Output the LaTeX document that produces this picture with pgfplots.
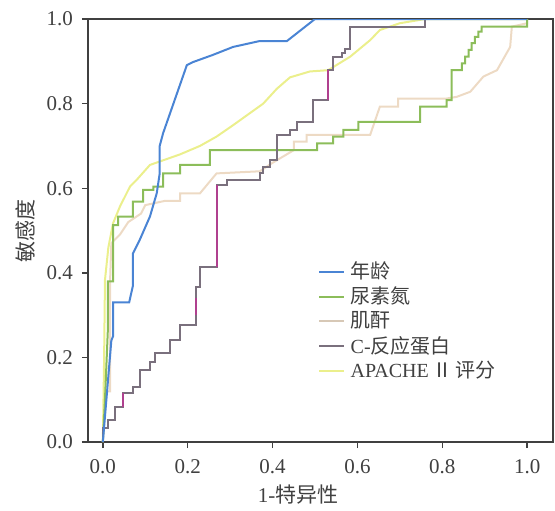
\documentclass[border=0pt]{standalone}
\usepackage{fontspec}
\setmainfont{Liberation Serif}
\newfontfamily\cjk{Noto Sans CJK SC}
\usepackage{pgfplots}
\pgfplotsset{compat=1.18}

\definecolor{cAge}{HTML}{4A84D4}
\definecolor{cBun}{HTML}{8CBD5A}
\definecolor{cCr}{HTML}{EDDAC4}
\definecolor{cCrp}{HTML}{7A707D}
\definecolor{cCrpHi}{HTML}{B0408F}
\definecolor{cApa}{HTML}{EBEF8C}
\definecolor{axgray}{HTML}{404040}

\begin{document}
\begin{tikzpicture}
\path[use as bounding box] (-44pt,-34pt) rectangle (233.5pt,221pt);
\begin{axis}[
  at={(0,0)}, anchor=south west,
  scale only axis, width=232.5pt, height=211.5pt,
  xmin=-0.035, xmax=1.061, ymin=0, ymax=1,
  xtick={0,0.2,0.4,0.6,0.8,1}, ytick={0,0.2,0.4,0.6,0.8,1},
  /pgf/number format/fixed, /pgf/number format/fixed zerofill,
  /pgf/number format/precision=1, /pgf/number format/assume math mode=true,
  tick label style={font=\fontsize{10.5}{12}\selectfont, text=axgray},
  xticklabel style={yshift=-2pt},
  yticklabel style={xshift=-1pt},
  tick align=outside, tick pos=left, major tick length=3pt,
  tick style={axgray, line width=0.7pt},
  axis line style={axgray, line width=0.85pt},
  xlabel={1-{\cjk 特异性}}, ylabel={{\cjk 敏感度}},
  label style={font=\fontsize{10.5}{12}\selectfont, text=axgray},
  xlabel style={at={(axis description cs:0.452,0)}, anchor=center, yshift=-26.5pt},
  ylabel style={at={(axis description cs:-0.1355,0.5)}, anchor=center},
  legend style={draw=none, fill=none, at={(axis description cs:0.494,0.43)},
    anchor=north west, font=\fontsize{10}{11.5}\selectfont, row sep=1.4pt,
    inner sep=0pt, nodes={inner sep=0.6pt, text=axgray}},
  legend cell align=left,
  legend image code/.code={\draw[#1, line width=1pt] (0pt,0pt) -- (12.5pt,0pt);
    \path (15pt,0pt);},
  unbounded coords=jump,
]
\addlegendimage{cAge}
\addlegendentry{{\cjk 年龄}}
\addlegendimage{cBun}
\addlegendentry{{\cjk 尿素氮}}
\addlegendimage{cCr!80!gray}
\addlegendentry{{\cjk 肌酐}}
\addlegendimage{cCrp}
\addlegendentry{C-{\cjk 反应蛋白}}
\addlegendimage{cApa}
\addlegendentry{APACHE\,{\cjk Ⅱ}\,{\cjk 评分}}

% 肌酐
\addplot[forget plot, cCr, line width=1pt] coordinates {
  (0,0)(0.005,0.12)(0.017,0.12)(0.017,0.38)(0.02,0.47)(0.04,0.49)(0.06,0.52)
  (0.09,0.54)(0.1,0.56)(0.146,0.57)(0.182,0.57)(0.182,0.588)(0.229,0.588)
  (0.268,0.635)(0.37,0.64)(0.4,0.66)(0.45,0.69)(0.45,0.71)(0.48,0.71)
  (0.48,0.726)(0.63,0.726)(0.653,0.793)(0.696,0.793)(0.696,0.812)(0.81,0.812)
  (0.834,0.816)(0.866,0.828)(0.897,0.864)(0.929,0.879)(0.96,0.934)(0.964,0.982)
  (1,0.99)(1,1)
};
% APACHE II
\addplot[forget plot, cApa, line width=1pt] coordinates {
  (0,0)(0.003,0.2)(0.005,0.383)(0.013,0.46)(0.024,0.517)(0.04,0.556)
  (0.064,0.604)(0.079,0.619)(0.111,0.655)(0.182,0.68)(0.229,0.70)
  (0.268,0.722)(0.307,0.749)(0.339,0.772)(0.378,0.80)(0.41,0.835)
  (0.441,0.862)(0.488,0.876)(0.531,0.879)(0.583,0.911)(0.63,0.95)
  (0.653,0.974)(0.7,0.99)(0.76,1)(1,1)
};
% 尿素氮
\addplot[forget plot, cBun, line width=1pt] coordinates {
  (0,0)(0.005,0.1)(0.012,0.27)(0.012,0.38)(0.024,0.38)(0.024,0.513)
  (0.036,0.513)(0.036,0.533)(0.071,0.533)(0.071,0.568)(0.095,0.568)
  (0.095,0.596)(0.119,0.596)(0.119,0.604)(0.142,0.604)(0.142,0.635)
  (0.182,0.635)(0.182,0.655)(0.252,0.655)(0.252,0.69)(0.505,0.69)
  (0.505,0.706)(0.543,0.706)(0.543,0.722)(0.567,0.722)(0.567,0.738)
  (0.602,0.738)(0.602,0.757)(0.748,0.757)(0.748,0.793)(0.81,0.793)
  (0.81,0.808)(0.822,0.808)(0.822,0.879)(0.846,0.879)(0.846,0.895)
  (0.854,0.895)(0.854,0.911)(0.862,0.911)(0.862,0.927)(0.869,0.927)
  (0.869,0.943)(0.877,0.943)(0.877,0.958)(0.885,0.958)(0.885,0.97)
  (0.893,0.97)(0.893,0.982)(1.0,0.982)(1.0,1.0)
};
% C-反应蛋白
\addplot[forget plot, cCrp, line width=1pt] coordinates {
  (0,0)(0,0.032)(0.013,0.032)(0.013,0.052)(0.028,0.052)(0.028,0.083)
  (0.048,0.083)(0.048,0.115)(0.071,0.115)(0.071,0.131)(0.087,0.131)
  (0.087,0.17)(0.111,0.17)(0.111,0.19)(0.123,0.19)(0.123,0.21)
  (0.158,0.21)(0.158,0.241)(0.182,0.241)(0.182,0.277)(0.219,0.277)
  (0.219,0.367)(0.229,0.367)(0.229,0.413)(0.268,0.413)(0.268,0.608)
  (0.292,0.608)(0.292,0.619)(0.37,0.619)(0.37,0.635)(0.377,0.635)
  (0.377,0.651)(0.394,0.651)(0.394,0.667)(0.41,0.667)(0.41,0.726)
  (0.441,0.726)(0.441,0.738)(0.457,0.738)(0.457,0.757)(0.496,0.757)
  (0.496,0.808)(0.531,0.808)(0.531,0.879)(0.543,0.879)(0.543,0.911)
  (0.563,0.911)(0.563,0.919)(0.571,0.919)(0.571,0.93)(0.583,0.93)
  (0.583,0.982)(0.759,0.982)(0.759,1)(1,1)
};
\addplot[forget plot, cCrpHi, line width=1pt] coordinates {
  (0.048,0.083)(0.048,0.115)(nan,nan)
  (0.219,0.30)(0.219,0.34)(nan,nan)
  (0.268,0.413)(0.268,0.608)(nan,nan)
  (0.531,0.808)(0.531,0.879)
};
% 年龄
\addplot[forget plot, cAge, line width=1pt] coordinates {
  (0,0)(0.02,0.24)(0.024,0.25)(0.024,0.33)(0.062,0.33)(0.071,0.37)
  (0.071,0.446)(0.087,0.478)(0.111,0.533)(0.127,0.588)(0.134,0.635)
  (0.134,0.70)(0.142,0.73)(0.198,0.891)(0.212,0.898)(0.259,0.915)
  (0.307,0.934)(0.37,0.948)(0.434,0.948)(0.50,1.0)(1,1)
};
\end{axis}
\end{tikzpicture}
\end{document}
